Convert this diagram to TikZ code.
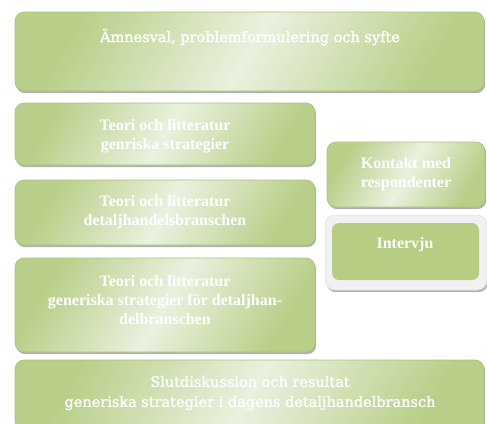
\documentclass[tikz,border=0pt]{standalone}
\usepackage{fontspec}
\setmainfont{Liberation Serif}
\newfontfamily\centfont[FakeBold=1.2]{DejaVu Serif}
\usetikzlibrary{shadows}
\definecolor{gdark}{HTML}{B9CF89}
\definecolor{glight}{HTML}{EAF1DF}
\definecolor{gline}{HTML}{A9C27A}
\definecolor{ginner}{HTML}{B6CD83}
\definecolor{frame}{HTML}{F1F1F1}
\tikzset{
  gbox/.style={rounded corners=9pt, draw=gline, line width=0.6pt,
    left color=gdark, right color=gdark, middle color=glight, shading angle=60,
    drop shadow={shadow xshift=1.2pt, shadow yshift=-2.2pt, fill=gray!75, opacity=0.8}},
  btext/.style={text=white, font=\bfseries\fontsize{16}{19}\selectfont, align=center},
  ctext/.style={text=white, font=\centfont\fontsize{14.5}{20}\selectfont, align=center}
}
\begin{document}
\begin{tikzpicture}[x=1pt,y=-1pt]
\useasboundingbox (0,0) rectangle (487,423);
% boxes
\path[gbox] (15,12) rectangle (484,91);
\node[ctext] (t1) at (250,37) {Ämnesval, problemformulering och syfte};
\path[gbox] (15,103) rectangle (315,165);
\node[btext] (t2) at (165,136) {Teori och litteratur\\genriska strategier};
\path[gbox] (15,180) rectangle (315,245);
\node[btext] (t3) at (165,212) {Teori och litteratur\\detaljhandelsbranschen};
\path[gbox] (15,258) rectangle (315,352);
\node[btext] (t4) at (165,300) {Teori och litteratur\\generiska strategier för detaljhan-\\delbranschen};
\path[gbox] (15,360) rectangle (484,430);
\node[ctext] (t5) at (250,393) {Slutdiskussion och resultat\\generiska strategier i dagens detaljhandelbransch};
\path[gbox] (327,142) rectangle (485,207);
\node[btext] (t6) at (406,174) {Kontakt med\\respondenter};
% Intervju
\path[rounded corners=10pt, fill=frame, draw=gray!25, line width=0.5pt,
  drop shadow={shadow xshift=1.2pt, shadow yshift=-2.2pt, fill=gray!75, opacity=0.8}] (325,215) rectangle (487,290);
\path[rounded corners=7pt, fill=ginner] (332,223) rectangle (479,280);
\node[btext] (t7) at (405,245) {Intervju};
\end{tikzpicture}
\end{document}
